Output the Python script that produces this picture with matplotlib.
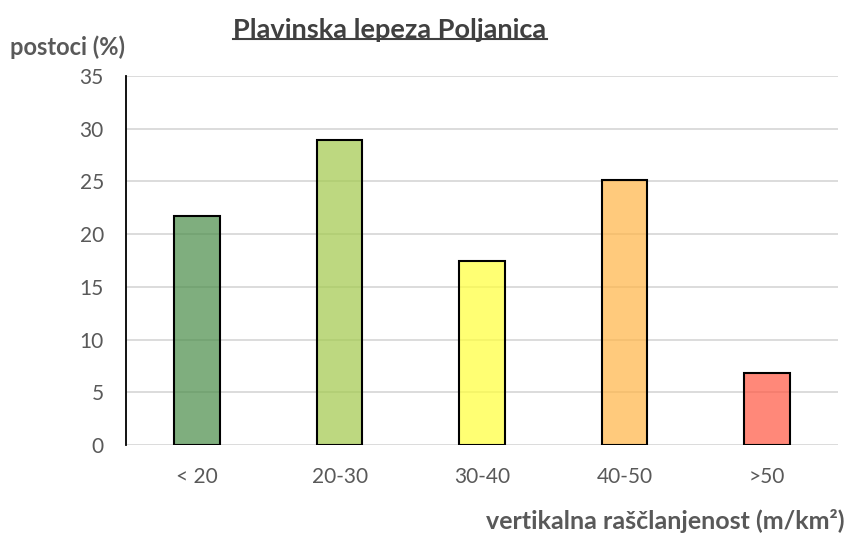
import matplotlib
matplotlib.use('Agg')
import matplotlib.pyplot as plt
from matplotlib.colors import to_rgba
from matplotlib.lines import Line2D

plt.rcParams['font.family'] = ['Lato', 'DejaVu Sans']

# data
categories = ['< 20', '20-30', '30-40', '40-50', '>50']
values = [21.7, 28.9, 17.5, 25.1, 6.8]
bar_colors = ['#4E8F4C', '#A4CA4F', '#FFFF3D', '#FFB64A', '#FF5A45']
yticks = [0, 5, 10, 15, 20, 25, 30, 35]

TEXT = '#595959'

fig = plt.figure(figsize=(8.49, 5.35), dpi=100)
ax = fig.add_axes([126 / 849, 1 - 445 / 535, 712 / 849, 369 / 535])

ax.yaxis.grid(True, color='#D9D9D9', linewidth=1.3, zorder=0)
ax.set_axisbelow(True)
x = list(range(len(categories)))
ax.bar(x, values, width=0.32, color=[to_rgba(c, 0.72) for c in bar_colors],
       edgecolor='black', linewidth=1.5, zorder=2)

ax.set_xlim(-0.5, len(categories) - 0.5)
ax.set_ylim(0, 35)
ax.set_yticks(yticks)
ax.set_xticks(x)
ax.set_xticklabels(categories)
ax.tick_params(axis='both', length=0, colors=TEXT, labelsize=15)
ax.tick_params(axis='x', pad=16)
ax.tick_params(axis='y', pad=16)

for s in ['top', 'right', 'bottom']:
    ax.spines[s].set_visible(False)
ax.spines['left'].set_color('black')
ax.spines['left'].set_linewidth(1.3)

# titles and labels
title = fig.text(390 / 849, 1 - 30 / 535, 'Plavinska lepeza Poljanica',
                 ha='center', va='center', fontsize=19.5, fontweight='bold',
                 color='#404040')
fig.text(10 / 849, 1 - 47 / 535, 'postoci (%)', ha='left', va='center',
         fontsize=17, fontweight='bold', color=TEXT)
fig.text(845 / 849, 1 - 521 / 535, 'vertikalna raščlanjenost (m/km²)',
         ha='right', va='center', fontsize=18, fontweight='bold', color=TEXT)

# underline the title
fig.canvas.draw()
bb = title.get_window_extent().transformed(fig.transFigure.inverted())
fig.add_artist(Line2D([bb.x0, bb.x1], [bb.y0 + 0.006, bb.y0 + 0.006],
                      transform=fig.transFigure, color='#404040', linewidth=1.5))

fig.savefig('out.png', dpi=100, facecolor='white')
